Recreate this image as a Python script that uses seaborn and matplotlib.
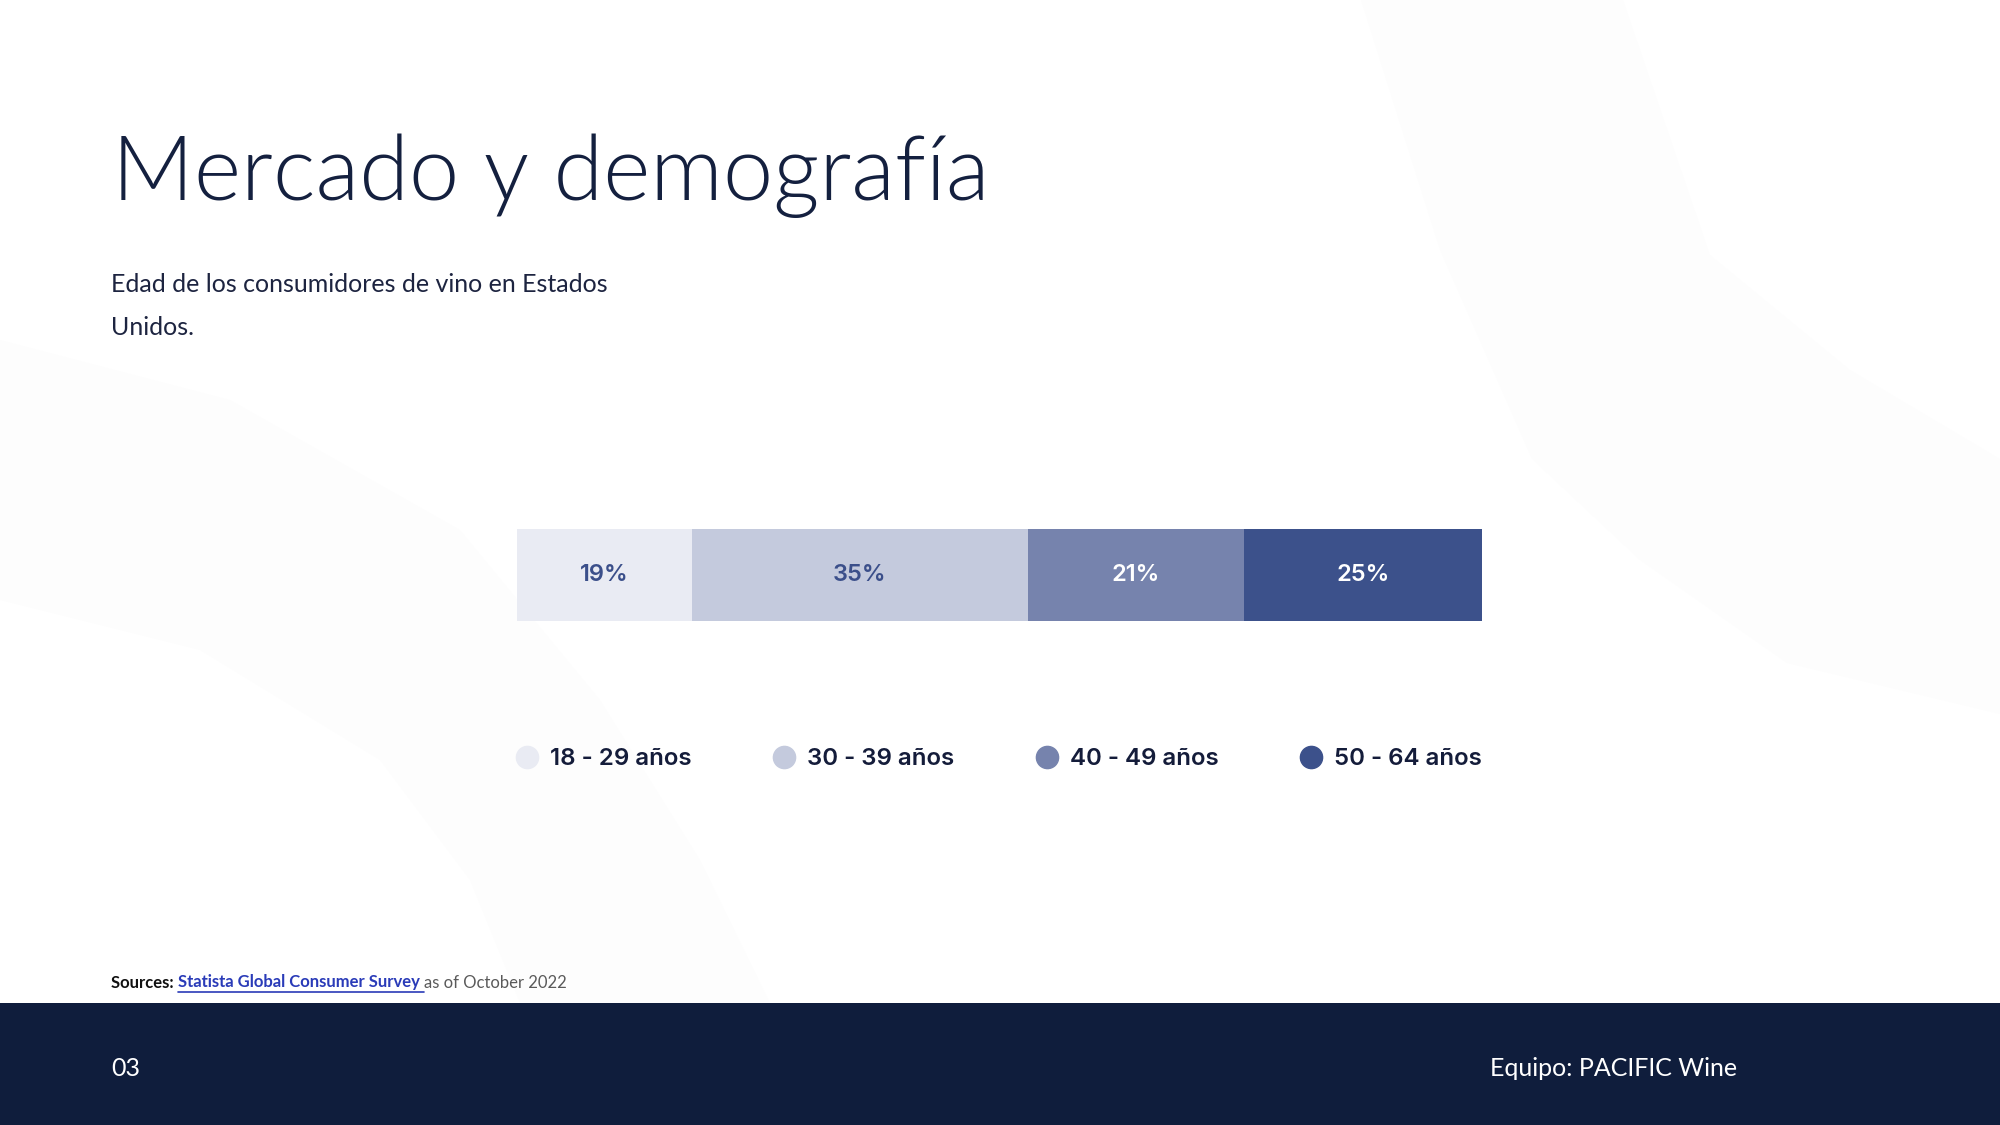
import pandas as pd
import numpy as np
import matplotlib.pyplot as plt
import seaborn as sns
from matplotlib.lines import Line2D
from matplotlib.patches import Rectangle, Polygon

sns.set_theme(style="white")
plt.rcParams['font.family'] = ['Lato', 'DejaVu Sans']

# data
age_groups = ["18 - 29 años", "30 - 39 años", "40 - 49 años", "50 - 64 años"]
share_labels = ["19%", "35%", "21%", "25%"]
# segment widths as measured on the picture
shares = [18.1, 34.9, 22.3, 24.7]
seg_colors = ["#e9ebf3", "#c4cadd", "#7683ad", "#3c518b"]
label_colors = ["#3b4f8a", "#3b4f8a", "#ffffff", "#ffffff"]

NAVY = "#0f1d3c"

df = pd.DataFrame({"grupo": age_groups, "pct": shares, "label": share_labels})
df["fin"] = df["pct"].cumsum()
df["inicio"] = df["fin"] - df["pct"]
df["fila"] = "total"

fig = plt.figure(figsize=(20, 11.25), dpi=100)
fig.patch.set_facecolor("white")

# faint background bands
bg = fig.add_axes([0, 0, 1, 1], zorder=-5)
bg.set_xlim(0, 2000)
bg.set_ylim(1125, 0)
bg.axis("off")
right_band = [(1361, 0), (1623, 0), (1710, 255), (1850, 370), (2000, 459),
              (2000, 714), (1787, 663), (1640, 560), (1532, 459), (1440, 250)]
left_band = [(0, 340), (230, 400), (460, 530), (600, 700), (700, 860), (770, 1003),
             (520, 1003), (470, 880), (380, 760), (200, 650), (0, 600)]
bg.add_patch(Polygon(right_band, closed=True, color="#fdfdfd", lw=0))
bg.add_patch(Polygon(left_band, closed=True, color="#fdfdfd", lw=0))

# stacked bar: draw cumulative totals from largest to smallest
ax = fig.add_axes([517 / 2000, 1 - 621 / 1125, 965 / 2000, 92 / 1125])
order = df.sort_values("fin", ascending=False)
sns.barplot(data=order, x="fin", y="fila", hue="grupo",
            hue_order=list(order["grupo"]),
            palette=dict(zip(age_groups, seg_colors)),
            dodge=False, width=1.0, orient="h", ax=ax,
            legend=False, saturation=1, linewidth=0)
ax.set_xlim(0, df["fin"].max())
ax.set_ylim(0.5, -0.5)
ax.axis("off")

for i, r in df.iterrows():
    ax.text((r["inicio"] + r["fin"]) / 2, 0, r["label"],
            ha="center", va="center", fontsize=17, fontweight="semibold",
            family=["Inter", "DejaVu Sans"], color=label_colors[i])

# legend
handles = [Line2D([0], [0], marker="o", linestyle="", markersize=16,
                  markerfacecolor=c, markeredgecolor=c) for c in seg_colors]
leg = ax.legend(handles, age_groups, loc="center", ncol=4,
                bbox_to_anchor=(0.5, -1.50), columnspacing=3.45,
                frameon=False, handlelength=0.8, handletextpad=0.55,
                borderaxespad=0, borderpad=0,
                prop={"family": ["Inter", "DejaVu Sans"], "weight": "semibold", "size": 17.3})
for t in leg.get_texts():
    t.set_color("#141c3a")

# titles
fig.text(112 / 2000, 1 - 176 / 1125, "Mercado y demografía", fontsize=65,
         fontweight=300, color="#14203f", va="center", ha="left")
fig.text(111 / 2000, 1 - 284.5 / 1125, "Edad de los consumidores de vino en Estados",
         fontsize=18, color="#1d2440", va="center", ha="left")
fig.text(111 / 2000, 1 - 327.5 / 1125, "Unidos.",
         fontsize=18, color="#1d2440", va="center", ha="left")

# sources line
y_src = 1 - 982.5 / 1125
t1 = fig.text(111 / 2000, y_src, "Sources: ", fontsize=12,
              fontweight="bold", color="#111111", va="center", ha="left")
t2 = fig.text(0, y_src, "Statista Global Consumer Survey ", fontsize=12,
              fontweight="bold", color="#2a3bb8", va="center", ha="left")
t3 = fig.text(0, y_src, "as of October 2022", fontsize=12,
              color="#5a5a5a", va="center", ha="left")
fig.canvas.draw()
r = fig.canvas.get_renderer()
W, H = fig.bbox.width, fig.bbox.height
b1 = t1.get_window_extent(r)
t2.set_position((b1.x1 / W, y_src))
b2 = t2.get_window_extent(r)
t3.set_position((b2.x1 / W, y_src))
fig.add_artist(Line2D([b2.x0 / W, b2.x1 / W], [(b2.y0 - 1) / H] * 2,
                      color="#2a3bb8", lw=1.2))

# footer band
fig.add_artist(Rectangle((0, 0), 1, 122 / 1125, transform=fig.transFigure,
                         color=NAVY, lw=0, zorder=-1))
fig.text(111 / 2000, 1 - 1068.5 / 1125, "03", fontsize=18, color="white",
         va="center", ha="left")
fig.text(1737 / 2000, 1 - 1068.5 / 1125, "Equipo: PACIFIC Wine", fontsize=18,
         color="white", va="center", ha="right")

fig.savefig("out.png", dpi=100)
